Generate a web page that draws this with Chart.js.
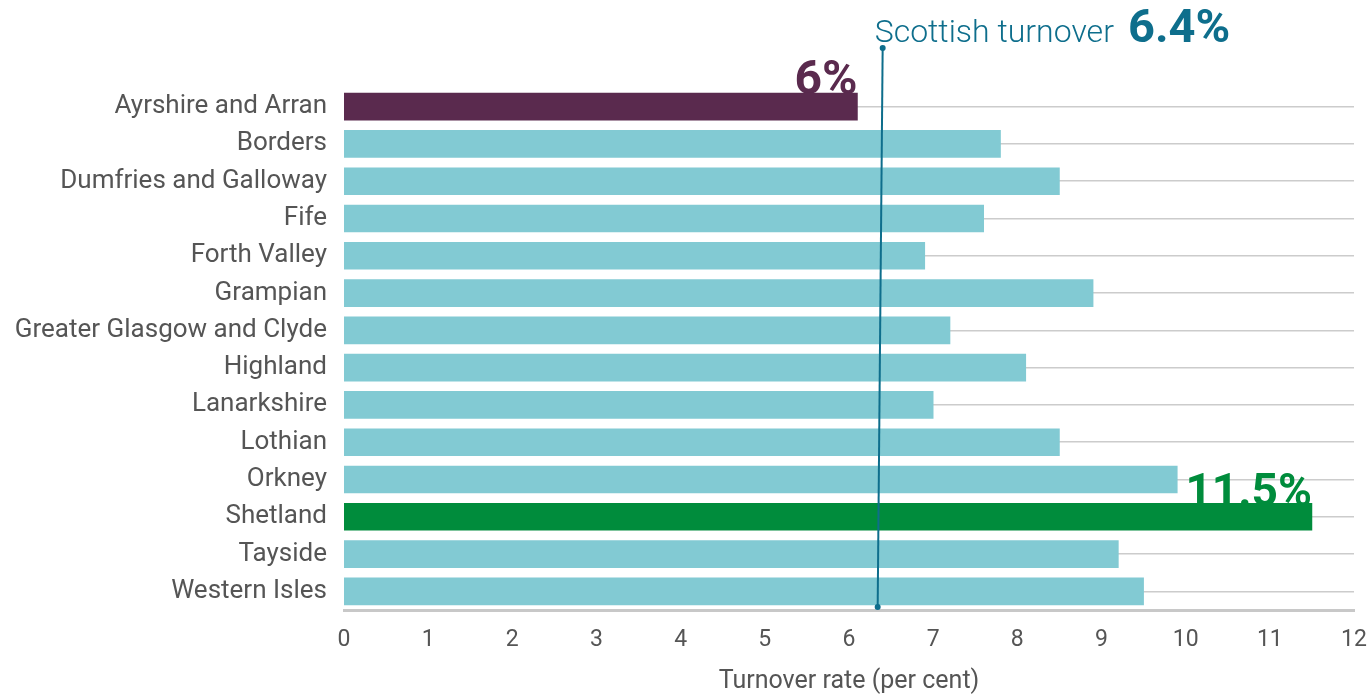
<!DOCTYPE html>
<html>
<head>
<meta charset="utf-8">
<script src="https://cdn.jsdelivr.net/npm/chart.js@4.4.1/dist/chart.umd.min.js"></script>
<style>
  html, body { margin: 0; padding: 0; background: #ffffff; }
  #wrap { position: relative; width: 1368px; height: 697px; }
</style>
</head>
<body>
<div id="wrap"><canvas id="c" width="1368" height="697"></canvas></div>
<script>
const categories = ['Ayrshire and Arran', 'Borders', 'Dumfries and Galloway', 'Fife', 'Forth Valley', 'Grampian',
  'Greater Glasgow and Clyde', 'Highland', 'Lanarkshire', 'Lothian', 'Orkney', 'Shetland', 'Tayside', 'Western Isles'];
const turnoverRates = [6.1, 7.8, 8.5, 7.6, 6.9, 8.9, 7.2, 8.1, 7.0, 8.5, 9.9, 11.5, 9.2, 9.5];
const xTicks = [0, 1, 2, 3, 4, 5, 6, 7, 8, 9, 10, 11, 12];
const scottishRate = 6.4;
const scottishLabel = 'Scottish turnover';
const scottishValueLabel = '6.4%';
const lowestBoard = 'Ayrshire and Arran';
const lowestLabel = '6%';
const highestBoard = 'Shetland';
const highestLabel = '11.5%';
const xTitle = 'Turnover rate (per cent)';

const PURPLE = '#5a2a4e', TEAL = '#82cad3', GREEN = '#008c3c', BLUE = '#0e6e8c', TEXT = '#555555';
const FONT = 'Roboto, "Liberation Sans", sans-serif';

const annotations = {
  id: 'annotations',
  beforeDatasetsDraw(chart) {
    const ctx = chart.ctx, x = chart.scales.x, y = chart.scales.y;
    ctx.save();
    ctx.textAlign = 'right';
    ctx.textBaseline = 'alphabetic';
    const iLow = categories.indexOf(lowestBoard);
    const iHigh = categories.indexOf(highestBoard);
    const barHalf = 13.5;
    ctx.font = 'bold 48px ' + FONT;
    ctx.fillStyle = PURPLE;
    ctx.fillText(lowestLabel, x.getPixelForValue(turnoverRates[iLow]), y.getPixelForValue(iLow) - barHalf + 1);
    ctx.font = 'bold 46px ' + FONT;
    ctx.fillStyle = GREEN;
    ctx.fillText(highestLabel, x.getPixelForValue(turnoverRates[iHigh]), y.getPixelForValue(iHigh) - barHalf + 3);
    ctx.restore();
  },
  afterDatasetsDraw(chart) {
    const ctx = chart.ctx, x = chart.scales.x, area = chart.chartArea;
    const px = x.getPixelForValue(scottishRate);
    const top = 48, bottom = area.bottom - 3;
    ctx.save();
    ctx.strokeStyle = BLUE;
    ctx.fillStyle = BLUE;
    ctx.lineWidth = 2;
    ctx.beginPath();
    ctx.moveTo(px, top);
    ctx.lineTo(px - 5, bottom);
    ctx.stroke();
    ctx.beginPath(); ctx.arc(px, top, 3, 0, Math.PI * 2); ctx.fill();
    ctx.beginPath(); ctx.arc(px - 5, bottom, 3, 0, Math.PI * 2); ctx.fill();
    ctx.textAlign = 'left';
    ctx.textBaseline = 'alphabetic';
    ctx.font = '300 32px ' + FONT;
    const tx = px - 8;
    ctx.fillText(scottishLabel, tx, 42);
    const w = ctx.measureText(scottishLabel).width;
    ctx.font = 'bold 47px ' + FONT;
    ctx.fillText(scottishValueLabel, tx + w + 14, 42);
    ctx.restore();
  }
};

new Chart(document.getElementById('c'), {
  type: 'bar',
  data: {
    labels: categories,
    datasets: [{
      data: turnoverRates,
      backgroundColor: ctx => {
        const lab = categories[ctx.dataIndex];
        if (lab === lowestBoard) return PURPLE;
        if (lab === highestBoard) return GREEN;
        return TEAL;
      },
      borderWidth: 0,
      barThickness: 27
    }]
  },
  options: {
    indexAxis: 'y',
    responsive: false,
    animation: false,
    devicePixelRatio: 1,
    layout: { padding: { top: 88, right: 0, left: 0, bottom: 0 } },
    plugins: { legend: { display: false }, tooltip: { enabled: false } },
    scales: {
      x: {
        type: 'linear',
        min: 0, max: 12,
        afterBuildTicks: s => { s.ticks = xTicks.map(v => ({ value: v })); },
        grid: { display: false, drawTicks: false },
        border: { display: true, color: '#c8c8c8', width: 3 },
        ticks: { color: TEXT, font: { family: FONT, size: 23 }, padding: 16, maxRotation: 0 },
        title: { display: true, text: xTitle, color: TEXT, font: { family: FONT, size: 25 }, padding: { top: 10, bottom: 0 } },
        afterFit: s => { s.height = 87; s.paddingRight = 14; s.paddingLeft = 0; }
      },
      y: {
        grid: { display: true, color: '#cccccc', lineWidth: 1.5, drawTicks: false, offset: false },
        border: { display: false },
        ticks: { color: TEXT, font: { family: FONT, size: 26 }, padding: 17, autoSkip: false },
        afterFit: s => { s.width = 344; s.paddingTop = 0; s.paddingBottom = 0; }
      }
    }
  },
  plugins: [annotations]
});
</script>
</body>
</html>
